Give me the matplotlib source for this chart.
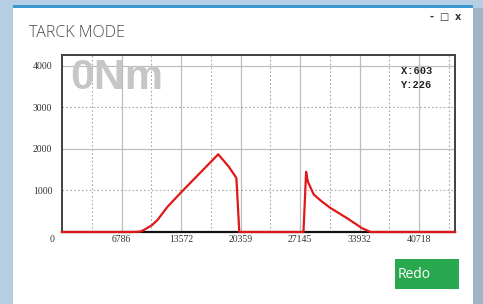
import matplotlib
matplotlib.use('Agg')
import matplotlib.pyplot as plt
from matplotlib.patches import Rectangle

# ── Data ─────────────────────────────────────────────────────────────────
x_vals = [0, 8000, 8950, 9330, 10290, 10890, 12000, 13515, 15500, 17815,
          19000, 19788, 19890, 20220, 27540, 27840, 28040, 28710, 29600,
          30620, 32530, 34240, 35190, 44820]
y_vals = [0, 0, 10, 48, 169, 290, 600, 940, 1370, 1872,
          1580, 1333, 1294, 0, 0, 1450, 1212, 904, 740,
          578, 330, 89, 0, 0]

x_ticks = [6786, 13572, 20359, 27145, 33932, 40718]
x_minor = [3393, 10179, 16966, 23752, 30538, 37325, 44111]
y_major = [2000, 4000]
y_minor = [1000, 3000]
y_ticks = [1000, 2000, 3000, 4000]
x_max, y_max = 44820, 4265

title = 'TARCK MODE'
big_label = '0Nm'
cursor_x, cursor_y = 603, 226

W, H = 483, 304
fig = plt.figure(figsize=(W / 100, H / 100), dpi=100, facecolor='#b6cee3')


def px(x0, y0, w, h):
    """pixel box (top-left origin) -> figure fraction rect"""
    return [x0 / W, 1 - (y0 + h) / H, w / W, h / H]


def box(x0, y0, w, h, color, z=-1):
    r = px(x0, y0, w, h)
    fig.patches.append(Rectangle((r[0], r[1]), r[2], r[3],
                                 transform=fig.transFigure, facecolor=color,
                                 edgecolor='none', zorder=z))


# window chrome
box(13, 8, 460, 300, 'white')
box(13, 5, 460, 3, '#3b97cf')
box(473, 8, 10, 300, '#9fb4c8')

fig.text(29 / W, 1 - 33 / H, title, fontsize=11.5, color='#4a4a4a',
         family='Open Sans', fontweight='light', va='center', ha='left')
for cx, sym in [(431, '-'), (444, '□'), (458, 'x')]:
    fig.text(cx / W, 1 - 17 / H, sym, fontsize=7, color='#333333',
             ha='center', va='center', fontweight='bold')

# Redo button
box(395, 259, 64, 30, '#29a84f', z=1)
fig.text(398 / W, 1 - 275 / H, 'Redo', fontsize=10, color='white',
         family='Open Sans', ha='left', va='center', zorder=2)

# ── Plot ──────────────────────────────────────────────────────────────────
ax = fig.add_axes(px(62, 55, 393, 177))
ax.set_zorder(1)
ax.set_xlim(0, x_max)
ax.set_ylim(0, y_max)

for xv in x_ticks:
    ax.axvline(xv, color='#bdbdbd', lw=0.9, zorder=1)
for xv in x_minor:
    ax.axvline(xv, color='#a8a8a8', lw=0.8, ls=(0, (1.5, 2)), zorder=1)
for yv in y_major:
    ax.axhline(yv, color='#bdbdbd', lw=0.9, zorder=1)
for yv in y_minor:
    ax.axhline(yv, color='#a8a8a8', lw=0.8, ls=(0, (1.5, 2)), zorder=1)

ax.plot(x_vals, y_vals, color='#e01818', lw=1.6, zorder=3, clip_on=False)

ax.set_xticks(x_ticks)
ax.set_xticklabels([str(v) for v in x_ticks])
ax.set_yticks(y_ticks)
ax.set_yticklabels([str(v) for v in y_ticks])
ax.tick_params(length=0, labelsize=7, labelcolor='#333333')
ax.tick_params(axis='x', pad=2)
ax.tick_params(axis='y', pad=7)
for lab in ax.get_xticklabels() + ax.get_yticklabels():
    lab.set_family('Liberation Serif')
ax.text(-0.02, -0.015, '0', transform=ax.transAxes, ha='right', va='top',
        fontsize=7, color='#333333', family='Liberation Serif')

for side in ['top', 'left', 'right']:
    ax.spines[side].set_color('#404040')
    ax.spines[side].set_linewidth(1.4)
ax.spines['bottom'].set_color('#111111')
ax.spines['bottom'].set_linewidth(1.6)

ax.text(0.02, 0.985, big_label, transform=ax.transAxes, ha='left', va='top',
        fontsize=31, fontweight='bold', color='#c6c6c6',
        family='Liberation Sans', zorder=2)
ax.text(0.862, 0.94, f'X:{cursor_x}\nY:{cursor_y}', transform=ax.transAxes,
        ha='left', va='top', fontsize=7.5, fontweight='bold',
        family='Liberation Mono', color='#222222', linespacing=1.6)

fig.savefig('out.png', dpi=100, facecolor=fig.get_facecolor())
